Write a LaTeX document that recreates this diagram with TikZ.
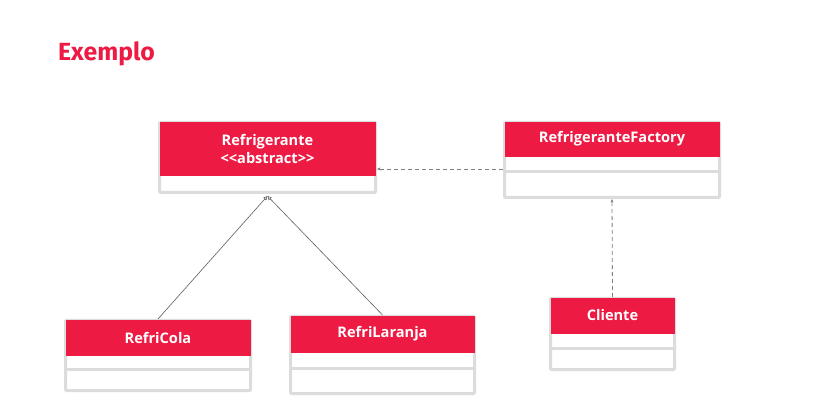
\documentclass[tikz,border=0pt]{standalone}
\usepackage{fontspec}
\setmainfont{Open Sans}
\newfontfamily\titlefont{Fira Sans}
\usetikzlibrary{arrows.meta}
\definecolor{brand}{RGB}{237,26,67}
\definecolor{frame}{RGB}{220,220,220}
\definecolor{linegray}{RGB}{95,95,95}
\tikzset{
  classframe/.style={draw=frame, line width=3pt, fill=white, rounded corners=1pt},
  classhead/.style={fill=brand},
  compline/.style={draw=frame, line width=3pt},
  classname/.style={text=white, font=\bfseries\fontsize{14.6}{18}\selectfont, align=center, inner sep=0pt},
  classanchor/.style={shape=rectangle, inner sep=0pt, outer sep=0pt},
  inherit/.style={draw=linegray, line width=0.6pt, -{Triangle[open, length=4pt, width=4pt]}},
  depend/.style={draw=linegray!80, line width=0.8pt, dash pattern=on 4pt off 3pt, -{Stealth[length=3.5pt, width=3pt]}},
  titletext/.style={text=brand, font=\titlefont\bfseries\fontsize{24.8}{28}\selectfont, inner sep=0pt, anchor=base west}
}
% name, left, top, right, head bottom, separator (0 = none), bottom, text
\newcommand\umlclass[8]{%
  \path[classframe] (#2+1.5,#3+1.5) rectangle (#4-1.5,#7-1.5);
  \fill[brand] (#2+1.5,#3+1.5) rectangle (#4-1.5,#5);
  \ifnum#6>0 \draw[compline] (#2+1.5,#6) -- (#4-1.5,#6);\fi
  \node[classanchor, minimum width={#4-#2}, minimum height={#7-#3}] (#1) at ({(#2+#4)/2},{(#3+#7)/2}) {};
  \node[classname] (#1-name) at ({(#2+#4)/2},{(#3+#5)/2}) {#8};
}
\begin{document}
\begin{tikzpicture}[x=1pt,y=-1pt]
\useasboundingbox[fill=white] (0,0) rectangle (832,419);
\node[titletext] (title) at (58,61) {Exemplo};
\umlclass{ref}{158}{121}{377}{176}{0}{194}{Refrigerante\\{<}{<}abstract{>}{>}}
\umlclass{fac}{503}{121}{721}{157}{172}{199}{RefrigeranteFactory}
\umlclass{cola}{64}{319}{252}{356}{369}{392}{RefriCola}
\umlclass{lar}{289}{315}{476}{353}{368}{395}{RefriLaranja}
\umlclass{cli}{549}{297}{676}{334}{348}{371}{Cliente}
\draw[inherit] (cola.north) -- ([yshift=-2]ref.south);
\draw[inherit] (lar.north) -- ([yshift=-2]ref.south);
\draw[depend] ([yshift=-9]fac.west) -- ([yshift=-9]fac.west -| ref.east);
\draw[depend] (cli.north) -- (fac.south);
\end{tikzpicture}
\end{document}
